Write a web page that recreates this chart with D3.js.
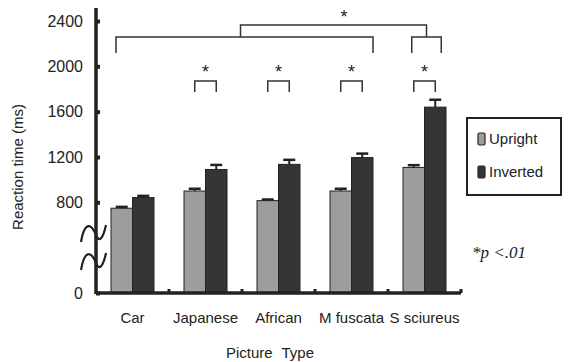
<!DOCTYPE html>
<html lang="en">
  <head>
    <meta charset="utf-8">
    <script src="https://d3js.org/d3.v7.min.js"></script>
    <style>
    body { margin: 0; background: #fff; }
    text { font-family: "Liberation Sans", Arial, sans-serif; fill: #222; }
    </style>
  </head>
  <body>
    <div id="place"></div>
    <script type="text/javascript">
    // values
    const categories = ["Car", "Japanese", "African", "M fuscata", "S sciureus"];
    const seriesNames = ["Upright", "Inverted"];
    const upright = [748, 900, 815, 900, 1108];
    const inverted = [842, 1090, 1135, 1195, 1640];
    const uprightErr = [12, 20, 10, 20, 20];
    const invertedErr = [15, 40, 40, 35, 65];
    const yTicks = [0, 800, 1200, 1600, 2000, 2400];

    const width = 568, height = 362;
    const svg = d3.select('#place').append('svg')
      .attr('width', width)
      .attr('height', height);

    const x0 = 96, x1 = 461, yBase = 293;

    const y = d3.scaleLinear().domain([0, 2400]).range([yBase, 21]);
    const x = d3.scaleBand().domain(categories).range([x0, x1]);
    const xSub = d3.scaleBand().domain(seriesNames).range([15, 58]);
    const fills = { Upright: "#9d9d9d", Inverted: "#353535" };

    const rows = categories.map((c, i) => ({
      cat: c,
      vals: [
        { s: "Upright", v: upright[i], e: uprightErr[i] },
        { s: "Inverted", v: inverted[i], e: invertedErr[i] }
      ]
    }));

    // bars
    const groups = svg.selectAll('g.grp').data(rows).enter().append('g')
      .attr('class', 'grp')
      .attr('transform', d => `translate(${x(d.cat)},0)`);

    groups.selectAll('rect').data(d => d.vals).enter().append('rect')
      .attr('x', d => xSub(d.s))
      .attr('y', d => y(d.v))
      .attr('width', xSub.bandwidth())
      .attr('height', d => yBase - y(d.v))
      .attr('fill', d => fills[d.s])
      .attr('stroke', '#222')
      .attr('stroke-width', 1);

    // error bars (upper only)
    groups.selectAll('g.err').data(d => d.vals).enter().append('g')
      .attr('class', 'err')
      .each(function (d) {
        const g = d3.select(this);
        const cx = xSub(d.s) + xSub.bandwidth() / 2;
        g.append('line')
          .attr('x1', cx).attr('x2', cx)
          .attr('y1', y(d.v)).attr('y2', y(d.v + d.e))
          .attr('stroke', '#222').attr('stroke-width', 2);
        g.append('line')
          .attr('x1', cx - 6).attr('x2', cx + 6)
          .attr('y1', y(d.v + d.e)).attr('y2', y(d.v + d.e))
          .attr('stroke', '#222').attr('stroke-width', 2.5);
      });

    // y axis
    const yAxis = svg.append('g')
      .attr('transform', `translate(${x0},0)`)
      .call(d3.axisLeft(y).tickValues(yTicks).tickFormat(d3.format('d'))
        .tickSize(-4).tickPadding(13).tickSizeOuter(0));
    yAxis.select('.domain').remove();
    yAxis.selectAll('.tick line').attr('stroke', '#222').attr('stroke-width', 4);
    yAxis.selectAll('.tick text').style('font-size', '16px').attr('fill', '#222');
    svg.append('line')
      .attr('x1', x0).attr('x2', x0)
      .attr('y1', 8).attr('y2', yBase + 1)
      .attr('stroke', '#222').attr('stroke-width', 3.5);

    // x axis
    const xAxis = svg.append('g')
      .attr('transform', `translate(0,${yBase})`)
      .call(d3.axisBottom(x).tickSize(0).tickPadding(19));
    xAxis.select('.domain').remove();
    xAxis.selectAll('.tick text').style('font-size', '15px').attr('fill', '#222');
    svg.append('line')
      .attr('x1', x0).attr('x2', x1)
      .attr('y1', yBase).attr('y2', yBase)
      .attr('stroke', '#222').attr('stroke-width', 3.5);
    svg.selectAll('line.xt').data(categories).enter().append('line')
      .attr('class', 'xt')
      .attr('x1', d => x(d) + x.bandwidth()).attr('x2', d => x(d) + x.bandwidth())
      .attr('y1', yBase).attr('y2', yBase - 4)
      .attr('stroke', '#222').attr('stroke-width', 3);

    // axis break marks
    const brk = d3.path();
    [233, 261].forEach(cy => {
      brk.moveTo(x0 - 15, cy + 9);
      brk.bezierCurveTo(x0 - 11, cy - 14, x0 - 4, cy - 8, x0, cy + 2);
      brk.bezierCurveTo(x0 + 3, cy + 10, x0 + 7, cy + 6, x0 + 10, cy - 8);
    });
    svg.append('path').attr('d', brk.toString())
      .attr('fill', 'none').attr('stroke', '#222').attr('stroke-width', 2.2);

    // axis titles
    svg.append('text')
      .attr('transform', `translate(23,${167}) rotate(-90)`)
      .style('text-anchor', 'middle')
      .style('font-size', '15px')
      .text('Reaction time (ms)');
    svg.append('text')
      .attr('x', 270).attr('y', 358)
      .style('text-anchor', 'middle')
      .style('font-size', '15px')
      .style('word-spacing', '5px')
      .text('Picture Type');

    // significance brackets
    const cen = (c, s) => x(c) + xSub(s) + xSub.bandwidth() / 2;
    function bracket(xa, xb, yTop, yBot) {
      svg.append('path')
        .attr('d', `M${xa},${yBot}V${yTop}H${xb}V${yBot}`)
        .attr('fill', 'none').attr('stroke', '#333').attr('stroke-width', 1.5);
    }
    function star(cx, cy) {
      svg.append('text').attr('x', cx).attr('y', cy)
        .style('text-anchor', 'middle').style('font-size', '18px')
        .text('*');
    }
    categories.slice(1).forEach(c => {
      bracket(cen(c, "Upright"), cen(c, "Inverted"), 81, 92);
      star((cen(c, "Upright") + cen(c, "Inverted")) / 2, 78);
    });
    const leftA = x("Car") + 20, leftB = x("M fuscata") + 58;
    const rightA = cen("S sciureus", "Upright") - 2, rightB = cen("S sciureus", "Inverted") + 6;
    bracket(leftA, leftB, 37, 53);
    bracket(rightA, rightB, 37, 53);
    bracket((leftA + leftB) / 2 - 4, (rightA + rightB) / 2, 25, 37);
    star(344, 23);

    // legend
    svg.append('rect')
      .attr('x', 467).attr('y', 118).attr('width', 94).attr('height', 77)
      .attr('fill', '#fff').attr('stroke', '#222').attr('stroke-width', 2);
    seriesNames.forEach((s, i) => {
      const ly = 139 + i * 33;
      svg.append('rect')
        .attr('x', 478).attr('y', ly - 6).attr('width', 7).attr('height', 12)
        .attr('rx', 1.5)
        .attr('fill', fills[s]).attr('stroke', '#222').attr('stroke-width', 1.2);
      svg.append('text')
        .attr('x', 489).attr('y', ly + 5)
        .style('font-size', '15px')
        .text(s);
    });

    // p value note
    svg.append('text')
      .attr('x', 472).attr('y', 258)
      .style('font-family', '"Liberation Serif", serif')
      .style('font-style', 'italic')
      .style('font-size', '17px')
      .text('*p <.01');
    </script>
  </body>
</html>
